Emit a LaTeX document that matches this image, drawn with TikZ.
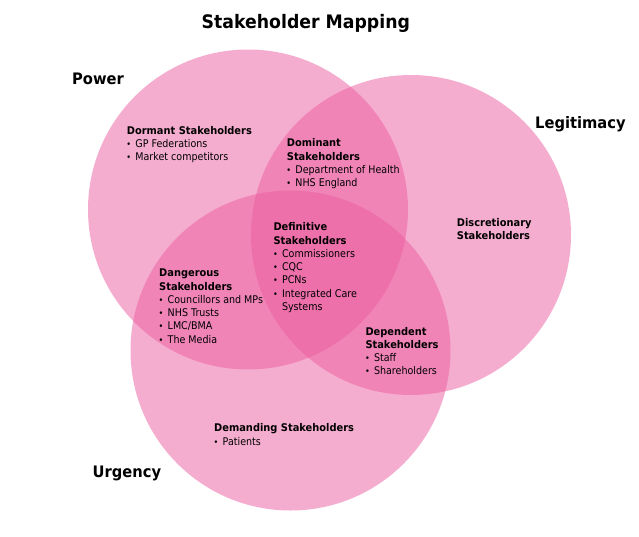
\documentclass[tikz,border=0pt]{standalone}
\usepackage{fontspec}
\setmainfont{DejaVu Sans}[FakeStretch=0.9, BoldFeatures={FakeStretch=0.93}]
\definecolor{pinkc}{RGB}{237,93,161}
\newcommand\bul{\makebox[8.5pt][l]{\hspace*{-0.5pt}\scalebox{0.85}{•}}}
\newcommand\blk[1]{\begin{tabular}[t]{@{}l@{}}#1\end{tabular}}
\tikzset{
  venn/.style={circle, minimum size=320pt, inner sep=0pt, fill=pinkc, fill opacity=0.5, draw=none},
  area/.style={anchor=base west, inner sep=0pt, font=\fontsize{10.6}{13.3}\selectfont, text=black},
  dimlabel/.style={anchor=base west, inner sep=0pt, font=\fontsize{15.8}{18}\selectfont\bfseries},
  titlelabel/.style={anchor=base west, inner sep=0pt, font=\fontsize{18.6}{22}\selectfont\bfseries}
}
\begin{document}
\begin{tikzpicture}[x=1pt,y=-1pt]
\useasboundingbox (0,0) rectangle (639,536);
\fill[white] (0,0) rectangle (639,536);
\node[venn] (power) at (248,209.5) {};
\node[venn] (legit) at (411,235) {};
\node[venn] (urgency) at (290.5,350.5) {};

\node[titlelabel] (title) at (201.5,28.3) {Stakeholder Mapping};
\node[dimlabel] (lpower) at (72,84.7) {Power};
\node[dimlabel] (llegit) at (535,128.3) {Legitimacy};
\node[dimlabel] (lurg) at (92.5,477.7) {Urgency};

\node[area] (dormant) at (126.7,134.3) {\blk{\textbf{Dormant Stakeholders}\\ \bul GP Federations\\ \bul Market competitors}};
\node[area] (dominant) at (286.7,146.7) {\blk{\textbf{Dominant}\\ \textbf{Stakeholders}\\ \bul Department of Health\\ \bul NHS England}};
\node[area] (definitive) at (273.3,230.7) {\blk{\textbf{Definitive}\\ \textbf{Stakeholders}\\ \bul Commissioners\\ \bul CQC\\ \bul PCNs\\ \bul Integrated Care\\ \hspace*{8.5pt}Systems}};
\node[area] (dangerous) at (159,276.7) {\blk{\textbf{Dangerous}\\ \textbf{Stakeholders}\\ \bul Councillors and MPs\\ \bul NHS Trusts\\ \bul LMC/BMA\\ \bul The Media}};
\node[area] (discretionary) at (456.7,226.5) {\blk{\textbf{Discretionary}\\ \textbf{Stakeholders}}};
\node[area] (dependent) at (365.3,335) {\blk{\textbf{Dependent}\\ \textbf{Stakeholders}\\ \bul Staff\\ \bul Shareholders}};
\node[area] (demanding) at (214,431.7) {\blk{\textbf{Demanding Stakeholders}\\ \bul Patients}};
\end{tikzpicture}
\end{document}
